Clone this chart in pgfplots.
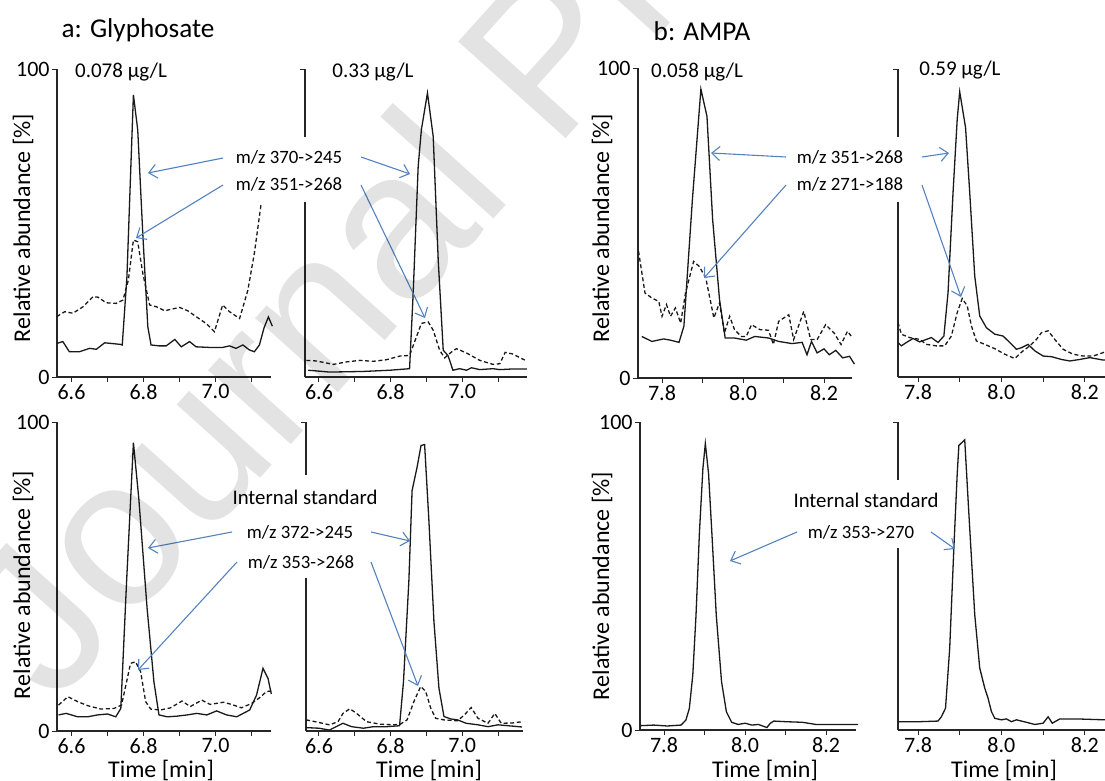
\documentclass[border=0pt]{standalone}
\usepackage{fontspec}
\setmainfont{Carlito}
\newfontfamily\wmfont{Liberation Sans}
\usepackage{pgfplots}
\pgfplotsset{compat=1.18}
\usetikzlibrary{arrows.meta}

\definecolor{arrowblue}{RGB}{84,130,190}
\definecolor{trace}{RGB}{25,25,25}

\pgfplotsset{
  chrom/.style={scale only axis, anchor=south west, axis lines=left,
    axis line style={-,line width=0.6pt,black!85},
    ymin=0, ymax=100,
    tick align=outside, major tick length=2.5pt, minor tick length=2.5pt,
    tick style={line width=0.5pt,black!85},
    tick label style={font=\fontsize{11}{12}\selectfont, inner sep=1pt},
    clip=false},
  gly/.style={chrom, xtick={6.6,6.8,7.0}, minor xtick={6.7,6.9,7.1},
    xticklabels={6.6,6.8,7.0}},
  ampa/.style={chrom, xtick={7.8,8.0,8.2}, minor xtick={7.9,8.1},
    xticklabels={7.8,8.0,8.2}},
  lab/.style={ytick={0,100}, yticklabels={0,100}},
  % right-hand panels: no numbers, only the small tick at the top
  nolab/.style={ytick=\empty,
    after end axis/.code={\draw[line width=0.5pt,black!85]
      (rel axis cs:0,1) -- ++(-2.5pt,0);}},
  sig/.style={line width=0.65pt, trace},
  ref/.style={line width=0.65pt, trace, dash pattern=on 2pt off 1.3pt},
}

\begin{document}
\begin{tikzpicture}
\useasboundingbox (0pt,0pt) rectangle (552.5pt,-390.5pt);

% ---- a: Glyphosate, 0.078 ug/L
\begin{axis}[gly, lab, at={(28.5pt,-188.5pt)}, width=107pt, height=154pt,
  xmin=6.5597, xmax=7.1542]
\addplot[sig] coordinates {
(6.559,10.9)(6.576,11.5)(6.594,8.2)(6.622,8.2)(6.65,9.3)(6.669,9.0)(6.692,11.1)
(6.71,10.9)(6.735,10.6)(6.741,10.4)(6.754,32.6)(6.772,91.6)(6.784,80.2)(6.798,46.6)
(6.812,16.3)(6.821,10.4)(6.844,10.1)(6.863,10.1)(6.887,12.2)(6.905,9.8)(6.928,11.5)
(6.946,9.8)(6.983,9.6)(7.02,9.6)(7.039,10.1)(7.057,9.3)(7.076,10.4)(7.094,8.8)
(7.108,8.2)(7.122,10.4)(7.135,16.0)(7.147,19.5)(7.158,16.5)};
\addplot[ref] coordinates {
(6.559,19.6)(6.581,21.2)(6.604,20.7)(6.632,22.8)(6.66,26.1)(6.674,25.9)(6.696,24.1)
(6.724,23.9)(6.743,25.0)(6.758,31.5)(6.772,44.5)(6.784,43.9)(6.798,33.7)(6.817,23.4)
(6.836,22.8)(6.859,21.5)(6.877,22.0)(6.9,22.6)(6.923,21.5)(6.946,19.6)(6.974,17.4)
(6.997,14.7)(7.02,23.4)(7.039,21.2)(7.067,19.0)(7.09,28.2)(7.108,40.2)(7.127,56.4)};
\end{axis}

% ---- a: Glyphosate, 0.33 ug/L
\begin{axis}[gly, nolab, at={(152.5pt,-188.5pt)}, width=111pt, height=154pt,
  xmin=6.5609, xmax=7.181]
\addplot[sig] coordinates {
(6.57,2.2)(6.63,1.6)(6.723,1.8)(6.798,2.2)(6.853,2.7)(6.863,27)(6.877,68.3)(6.886,80.3)
(6.903,92.2)(6.919,78.1)(6.933,38)(6.947,8.7)(6.96,7.0)(6.965,5.4)(6.974,2.2)(6.993,2.7)
(7.012,2.2)(7.026,3.0)(7.049,2.4)(7.086,2.7)(7.105,2.4)(7.14,2.6)(7.181,2.6)};
\addplot[ref] coordinates {
(6.565,5.4)(6.593,5.2)(6.64,4.1)(6.677,4.9)(6.714,5.4)(6.751,5.1)(6.788,5.6)(6.826,6.8)
(6.853,7.0)(6.867,11.4)(6.886,17.4)(6.905,17.9)(6.919,15.2)(6.937,8.7)(6.951,6.2)
(6.97,8.1)(6.984,9.2)(7.012,7.8)(7.049,5.4)(7.086,4.1)(7.105,4.3)(7.12,8.0)(7.14,7.5)
(7.175,5.5)};
\end{axis}

% ---- b: AMPA, 0.058 ug/L
\begin{axis}[ampa, lab, at={(319pt,-189pt)}, width=107pt, height=155pt,
  xmin=7.7407, xmax=8.2691]
\addplot[sig] coordinates {
(7.75,13.4)(7.775,11.8)(7.804,12.6)(7.821,12.2)(7.842,11.5)(7.854,16.7)(7.875,57.5)
(7.896,93.2)(7.911,84.4)(7.925,51.1)(7.942,25.3)(7.956,12.9)(7.979,12.9)(8.008,12.2)
(8.029,13.4)(8.063,12.9)(8.088,11.8)(8.121,11.1)(8.146,11.5)(8.158,7.5)(8.169,11.8)
(8.183,8.1)(8.2,9.4)(8.213,7.5)(8.229,8.9)(8.246,6.5)(8.263,7.0)(8.275,4.5)};
\addplot[ref] coordinates {
(7.742,40.9)(7.758,27.4)(7.775,25.8)(7.792,24.7)(7.8,19.9)(7.811,23.7)(7.821,19.9)
(7.833,22.6)(7.846,17.7)(7.858,27.4)(7.878,37.6)(7.892,36)(7.908,32.3)(7.928,19.4)
(7.942,24.2)(7.954,14.5)(7.967,19.9)(7.979,15.6)(7.996,13.4)(8.008,13.4)(8.021,17.2)
(8.042,15.6)(8.063,15.4)(8.075,10.8)(8.088,18.3)(8.113,20.4)(8.125,12.4)(8.15,21.5)
(8.167,12.4)(8.183,12.4)(8.204,17.2)(8.225,14.5)(8.242,10.8)(8.258,15.1)(8.27,13.0)};
\end{axis}

% ---- b: AMPA, 0.59 ug/L
\begin{axis}[ampa, nolab, at={(449pt,-188.5pt)}, width=108.5pt, height=154pt,
  xmin=7.752, xmax=8.2724]
\addplot[sig] coordinates {
(7.752,11.2)(7.76,10.1)(7.772,11.2)(7.788,12.5)(7.804,11.4)(7.816,12.0)(7.832,12.8)
(7.848,11.2)(7.862,13.3)(7.872,27.4)(7.884,59.9)(7.894,83.7)(7.9,92.6)(7.914,81)
(7.924,59.9)(7.936,32.8)(7.948,19.8)(7.964,16.0)(7.984,13.9)(8.004,13.3)(8.02,11.2)
(8.036,9.0)(8.048,9.5)(8.064,10.6)(8.08,8.5)(8.1,6.8)(8.12,6.6)(8.144,5.7)(8.164,5.2)
(8.188,5.7)(8.212,6.3)(8.244,5.5)(8.272,5.6)};
\addplot[ref] coordinates {
(7.752,17.7)(7.76,13.9)(7.78,12.8)(7.804,12.2)(7.82,10.6)(7.844,10.1)(7.864,10.1)
(7.88,13.3)(7.894,20.9)(7.906,25.5)(7.918,23.1)(7.928,16.6)(7.94,11.7)(7.96,10.6)
(7.984,9.2)(8.008,7.4)(8.032,6.0)(8.052,8.5)(8.068,10.1)(8.084,12.2)(8.096,14.4)
(8.112,15.0)(8.128,12.2)(8.148,9.0)(8.172,7.4)(8.196,6.8)(8.22,6.8)(8.248,8.1)(8.272,8.0)};
\end{axis}

% ---- internal standard, glyphosate, low
\begin{axis}[gly, lab, at={(28.5pt,-365.5pt)}, width=107pt, height=154.5pt,
  xmin=6.5597, xmax=7.1542]
\addplot[sig] coordinates {
(6.564,5.2)(6.585,5.7)(6.617,4.6)(6.645,4.6)(6.672,5.2)(6.7,5.5)(6.723,4.6)(6.737,7.3)
(6.753,48.3)(6.772,93.3)(6.787,75.2)(6.81,39.7)(6.829,15.9)(6.843,5.2)(6.866,4.6)
(6.893,4.8)(6.921,5.2)(6.948,5.7)(6.976,5.2)(7.003,6.5)(7.031,5.2)(7.059,4.6)(7.095,6.8)
(7.114,11.6)(7.132,20.3)(7.146,17.0)(7.155,12.0)};
\addplot[ref] coordinates {
(6.564,8.4)(6.59,11.1)(6.617,9.5)(6.645,8.2)(6.682,7.1)(6.718,7.3)(6.739,8.4)(6.753,15.9)
(6.764,21.9)(6.778,22.4)(6.792,19.2)(6.806,9.5)(6.82,7.1)(6.847,6.8)(6.875,7.5)(6.907,9.7)
(6.93,7.9)(6.962,10.0)(6.985,8.6)(7.022,9.3)(7.045,8.6)(7.072,7.5)(7.1,8.9)(7.123,10.8)
(7.141,12.7)(7.155,13.0)};
\end{axis}

% ---- internal standard, glyphosate, high
\begin{axis}[gly, nolab, at={(153pt,-365.5pt)}, width=108.5pt, height=154.5pt,
  xmin=6.5637, xmax=7.1698]
\addplot[sig] coordinates {
(6.564,1.1)(6.6,0.9)(6.629,0.3)(6.648,1.4)(6.667,2.5)(6.691,1.4)(6.724,0.9)(6.752,1.4)
(6.789,1.4)(6.825,1.7)(6.836,16)(6.851,48.5)(6.86,77.8)(6.874,85.4)(6.885,92.4)
(6.895,92.7)(6.907,68)(6.921,35.5)(6.935,13.9)(6.949,4.7)(6.968,3.9)(6.987,3.6)
(7.011,2.5)(7.044,2.0)(7.072,1.4)(7.1,2.0)(7.167,1.3)};
\addplot[ref] coordinates {
(6.564,3.6)(6.59,3.0)(6.629,2.0)(6.653,3.0)(6.667,5.7)(6.686,7.2)(6.705,5.7)(6.733,3.0)
(6.771,2.2)(6.808,2.0)(6.827,2.2)(6.846,3.6)(6.865,9.5)(6.884,14.4)(6.898,12.8)(6.912,7.4)
(6.926,4.1)(6.949,3.6)(6.987,3.3)(7.006,5.2)(7.025,7.6)(7.044,4.1)(7.072,2.5)(7.091,5.7)
(7.109,2.5)(7.14,2.6)(7.167,3.0)};
\end{axis}

% ---- internal standard, AMPA, low
\begin{axis}[ampa, lab, at={(320pt,-365pt)}, width=108pt, height=154pt,
  xmin=7.7407, xmax=8.274]
\addplot[sig] coordinates {
(7.741,1.4)(7.775,1.6)(7.808,1.3)(7.842,1.6)(7.854,3.2)(7.8625,7.0)(7.871,17.8)
(7.879,37.3)(7.8875,64.3)(7.896,84.9)(7.902,93)(7.91,83.2)(7.918,64.3)(7.929,37.3)
(7.942,15.7)(7.954,5.9)(7.967,2.5)(7.983,1.8)(8.0,2.2)(8.017,1.6)(8.033,1.8)(8.054,0.8)
(8.0625,2.2)(8.071,2.9)(8.1,2.7)(8.142,2.5)(8.175,1.8)(8.258,1.8)(8.279,1.8)};
\end{axis}

% ---- internal standard, AMPA, high
\begin{axis}[ampa, nolab, at={(449pt,-365pt)}, width=108.5pt, height=154pt,
  xmin=7.752, xmax=8.2724]
\addplot[sig] coordinates {
(7.752,2.7)(7.804,2.7)(7.848,2.9)(7.856,4.3)(7.866,7.1)(7.876,26.6)(7.886,59.2)
(7.894,83.2)(7.898,92.4)(7.912,94.2)(7.922,70.1)(7.936,37.5)(7.948,20.1)(7.96,13.6)
(7.968,10.3)(7.976,6.0)(7.984,3.8)(8.0,3.3)(8.012,3.6)(8.024,2.7)(8.036,3.3)(8.06,2.5)
(8.08,1.8)(8.1,2.2)(8.112,4.3)(8.122,2.2)(8.14,3.6)(8.18,3.6)(8.248,3.3)(8.272,3.2)};
\end{axis}

\begin{scope}[x=0.5pt,y=-0.5pt]
% text boxes that break the axes
\fill[white] (228,137) rectangle (358,202);
\fill[white] (789,137) rectangle (919,202);
\fill[white] (230,475) rectangle (376,578);
\fill[white] (793,480) rectangle (936,548);

\tikzset{lbl/.style={font=\fontsize{9.4}{11}\selectfont, inner sep=0pt},
  arr/.style={arrowblue, line width=0.55pt, -{Straight Barb[length=4pt,width=7pt]}}}

% titles and concentrations
\node[font=\fontsize{13.6}{16}\selectfont] at (138,30) {a: Glyphosate};
\node[font=\fontsize{13.6}{16}\selectfont] at (702,31) {b: AMPA};
\node[font=\fontsize{10.5}{12}\selectfont] at (121,72) {0.078 µg/L};
\node[font=\fontsize{10.5}{12}\selectfont] at (373,72) {0.33 µg/L};
\node[font=\fontsize{10.5}{12}\selectfont] at (697,72) {0.058 µg/L};
\node[font=\fontsize{10.5}{12}\selectfont] at (960,70) {0.59 µg/L};

% axis titles
\foreach \x/\y in {23/228, 602/228, 23/585, 602/586}
  \node[rotate=90, font=\fontsize{12}{14}\selectfont] at (\x,\y) {Relative abundance [\%]};
\foreach \x in {161, 429, 765, 1004}
  \node[font=\fontsize{12}{14}\selectfont] at (\x,770) {Time [min]};

% glyphosate annotations
\node[lbl] at (289,157) {m/z 370->245};
\node[lbl] at (289,184) {m/z 351->268};
\draw[arr] (223,158) -- (148,173);
\draw[arr] (223,185) -- (136,238);
\draw[arr] (361,157) -- (410,174);
\draw[arr] (361,185) -- (425,318);

% AMPA annotations
\node[lbl] at (850,157) {m/z 351->268};
\node[lbl] at (850,184) {m/z 271->188};
\draw[arr] (786,157) -- (711,153);
\draw[arr] (786,185) -- (704,278);
\draw[arr] (922,157) -- (949,153);
\draw[arr] (922,185) -- (961,297);

% internal standards
\node[font=\fontsize{10.4}{12}\selectfont] at (305,497) {Internal standard};
\node[lbl] at (300,532) {m/z 372->245};
\node[lbl] at (301,562) {m/z 353->268};
\draw[arr] (232,532) -- (148,548);
\draw[arr] (237,562) -- (138,670);
\draw[arr] (371,532) -- (410,541);
\draw[arr] (371,562) -- (418,686);

\node[font=\fontsize{10.4}{12}\selectfont] at (866,500) {Internal standard};
\node[lbl] at (861,532) {m/z 353->270};
\draw[arr] (797,532) -- (730,561);
\draw[arr] (931,532) -- (955,549);

% watermark
\node[rotate=48, anchor=base west, text=black!11, blend mode=multiply,
  font=\wmfont\fontsize{105}{105}\selectfont] at (50,712) {Journal Pre-proof};
\end{scope}
\end{tikzpicture}
\end{document}
